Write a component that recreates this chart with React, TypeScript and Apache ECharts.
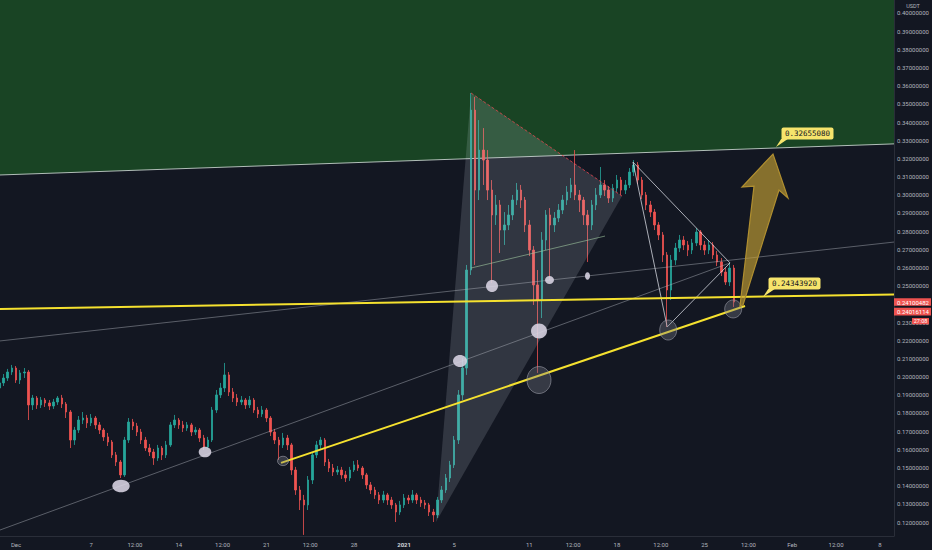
import React, { useEffect, useRef } from "react";
import * as echarts from "echarts";

// ---- time scale: x values are days counted from 1 Dec 2020 00:00 ----
const CANDLE_START_DAY = -4 / 3; // 29 Nov 2020 16:00
const CANDLE_STEP_DAY = 1 / 3; // 8-hour candles

const OPEN = [
  0.1937, 0.1965, 0.1992, 0.2025, 0.2047, 0.1981, 0.2020, 0.2025, 0.1844, 0.1882,
  0.1844, 0.1871, 0.1855, 0.1838, 0.1860, 0.1882, 0.1849, 0.1805, 0.1651, 0.1706,
  0.1761, 0.1772, 0.1745, 0.1772, 0.1734, 0.1706, 0.1668, 0.1640, 0.1569, 0.1530,
  0.1459, 0.1651, 0.1750, 0.1728, 0.1695, 0.1651, 0.1607, 0.1585, 0.1552, 0.1607,
  0.1569, 0.1624, 0.1734, 0.1761, 0.1734, 0.1717, 0.1734, 0.1695, 0.1706, 0.1662,
  0.1613, 0.1651, 0.1816, 0.1899, 0.1937, 0.2009, 0.1915, 0.1882, 0.1860, 0.1871,
  0.1844, 0.1871, 0.1816, 0.1794, 0.1816, 0.1772, 0.1695, 0.1651, 0.1624, 0.1662,
  0.1624, 0.1486, 0.1376, 0.1321, 0.1294, 0.1431, 0.1569, 0.1624, 0.1651, 0.1530,
  0.1497, 0.1475, 0.1486, 0.1459, 0.1442, 0.1486, 0.1514, 0.1497, 0.1459, 0.1404,
  0.1376, 0.1349, 0.1321, 0.1349, 0.1321, 0.1294, 0.1255, 0.1294, 0.1332, 0.1321,
  0.1349, 0.1321, 0.1305, 0.1294, 0.1255, 0.1239, 0.1321, 0.1376, 0.1442, 0.1514,
  0.1651, 0.1899, 0.2047, 0.2586, 0.3466, 0.3026, 0.3246, 0.3191, 0.3026, 0.2889,
  0.2944, 0.2806, 0.2834, 0.2889, 0.2971, 0.3026, 0.2971, 0.2834, 0.2696, 0.2504,
  0.2421, 0.2751, 0.2889, 0.2834, 0.2872, 0.2916, 0.2971, 0.3015, 0.3054, 0.2999,
  0.2971, 0.2889, 0.2834, 0.2944, 0.2999, 0.3054, 0.3026, 0.2982, 0.3037, 0.3081,
  0.3026, 0.3054, 0.3125, 0.3164, 0.3081, 0.2999, 0.2944, 0.2905, 0.2834, 0.2779,
  0.2669, 0.2476, 0.2641, 0.2707, 0.2751, 0.2724, 0.2696, 0.2735, 0.2795, 0.2724,
  0.2696, 0.2724, 0.2669, 0.2630, 0.2575, 0.2520, 0.2597,
];

const CLOSE = [
  0.1965, 0.1992, 0.2025, 0.2047, 0.1981, 0.2020, 0.2025, 0.1844, 0.1882, 0.1844,
  0.1871, 0.1855, 0.1838, 0.1860, 0.1882, 0.1849, 0.1805, 0.1651, 0.1706, 0.1761,
  0.1772, 0.1745, 0.1772, 0.1734, 0.1706, 0.1668, 0.1640, 0.1569, 0.1530, 0.1459,
  0.1651, 0.1750, 0.1728, 0.1695, 0.1651, 0.1607, 0.1585, 0.1552, 0.1607, 0.1569,
  0.1624, 0.1734, 0.1761, 0.1734, 0.1717, 0.1734, 0.1695, 0.1706, 0.1662, 0.1613,
  0.1651, 0.1816, 0.1899, 0.1937, 0.2009, 0.1915, 0.1882, 0.1860, 0.1871, 0.1844,
  0.1871, 0.1816, 0.1794, 0.1816, 0.1772, 0.1695, 0.1651, 0.1624, 0.1662, 0.1624,
  0.1486, 0.1376, 0.1321, 0.1294, 0.1431, 0.1569, 0.1624, 0.1651, 0.1530, 0.1497,
  0.1475, 0.1486, 0.1459, 0.1442, 0.1486, 0.1514, 0.1497, 0.1459, 0.1404, 0.1376,
  0.1349, 0.1321, 0.1349, 0.1321, 0.1294, 0.1255, 0.1294, 0.1332, 0.1321, 0.1349,
  0.1321, 0.1305, 0.1294, 0.1255, 0.1239, 0.1321, 0.1376, 0.1442, 0.1514, 0.1651,
  0.1899, 0.2047, 0.2586, 0.3466, 0.3026, 0.3246, 0.3191, 0.3026, 0.2889, 0.2944,
  0.2806, 0.2834, 0.2889, 0.2971, 0.3026, 0.2971, 0.2834, 0.2696, 0.2504, 0.2421,
  0.2751, 0.2889, 0.2834, 0.2872, 0.2916, 0.2971, 0.3015, 0.3054, 0.2999, 0.2971,
  0.2889, 0.2834, 0.2944, 0.2999, 0.3054, 0.3026, 0.2982, 0.3037, 0.3081, 0.3026,
  0.3054, 0.3125, 0.3164, 0.3081, 0.2999, 0.2944, 0.2905, 0.2834, 0.2779, 0.2669,
  0.2476, 0.2641, 0.2707, 0.2751, 0.2724, 0.2696, 0.2735, 0.2795, 0.2724, 0.2696,
  0.2724, 0.2669, 0.2630, 0.2575, 0.2520, 0.2597, 0.2410,
];

const HIGH = [
  0.1987, 0.2014, 0.2042, 0.2064, 0.2058, 0.2036, 0.2047, 0.2036, 0.1899, 0.1893,
  0.1888, 0.1882, 0.1871, 0.1877, 0.1893, 0.1899, 0.1860, 0.1816, 0.1723, 0.1783,
  0.1805, 0.1789, 0.1794, 0.1783, 0.1750, 0.1717, 0.1690, 0.1651, 0.1585, 0.1541,
  0.1668, 0.1772, 0.1767, 0.1745, 0.1712, 0.1668, 0.1629, 0.1602, 0.1624, 0.1618,
  0.1646, 0.1750, 0.1789, 0.1772, 0.1756, 0.1750, 0.1745, 0.1723, 0.1717, 0.1679,
  0.1668, 0.1833, 0.1926, 0.1965, 0.2075, 0.2025, 0.1937, 0.1904, 0.1893, 0.1882,
  0.1893, 0.1882, 0.1833, 0.1838, 0.1827, 0.1783, 0.1712, 0.1668, 0.1690, 0.1679,
  0.1635, 0.1503, 0.1398, 0.1349, 0.1453, 0.1585, 0.1646, 0.1668, 0.1662, 0.1547,
  0.1519, 0.1508, 0.1503, 0.1481, 0.1503, 0.1536, 0.1541, 0.1508, 0.1470, 0.1420,
  0.1393, 0.1365, 0.1371, 0.1360, 0.1338, 0.1305, 0.1316, 0.1354, 0.1349, 0.1376,
  0.1360, 0.1338, 0.1321, 0.1305, 0.1272, 0.1338, 0.1398, 0.1464, 0.1536, 0.1673,
  0.1926, 0.2102, 0.2614, 0.3560, 0.3538, 0.3411, 0.3367, 0.3246, 0.3081, 0.2999,
  0.2971, 0.2905, 0.2944, 0.2999, 0.3065, 0.3054, 0.2988, 0.2861, 0.2718, 0.2586,
  0.2795, 0.2916, 0.2927, 0.2905, 0.2949, 0.2999, 0.3048, 0.3092, 0.3246, 0.3026,
  0.2988, 0.2916, 0.2971, 0.3037, 0.3153, 0.3081, 0.3048, 0.3059, 0.3109, 0.3098,
  0.3081, 0.3147, 0.3191, 0.3180, 0.3098, 0.3015, 0.2966, 0.2922, 0.2850, 0.2795,
  0.2685, 0.2669, 0.2735, 0.2779, 0.2773, 0.2746, 0.2757, 0.2817, 0.2806, 0.2746,
  0.2751, 0.2740, 0.2691, 0.2652, 0.2597, 0.2625, 0.2614,
];

const LOW = [
  0.1921, 0.1948, 0.1976, 0.2009, 0.1965, 0.1959, 0.1992, 0.1761, 0.1816, 0.1822,
  0.1827, 0.1833, 0.1816, 0.1822, 0.1844, 0.1827, 0.1772, 0.1607, 0.1624, 0.1690,
  0.1739, 0.1717, 0.1728, 0.1712, 0.1684, 0.1646, 0.1618, 0.1552, 0.1508, 0.1442,
  0.1448, 0.1635, 0.1706, 0.1673, 0.1629, 0.1591, 0.1563, 0.1514, 0.1536, 0.1541,
  0.1552, 0.1613, 0.1717, 0.1712, 0.1695, 0.1701, 0.1673, 0.1679, 0.1640, 0.1596,
  0.1602, 0.1640, 0.1800, 0.1882, 0.1915, 0.1893, 0.1860, 0.1838, 0.1844, 0.1822,
  0.1827, 0.1800, 0.1772, 0.1778, 0.1750, 0.1673, 0.1629, 0.1541, 0.1607, 0.1596,
  0.1459, 0.1349, 0.1266, 0.1129, 0.1266, 0.1409, 0.1552, 0.1602, 0.1508, 0.1475,
  0.1453, 0.1459, 0.1437, 0.1420, 0.1426, 0.1475, 0.1481, 0.1437, 0.1382, 0.1354,
  0.1327, 0.1299, 0.1305, 0.1294, 0.1272, 0.1200, 0.1239, 0.1277, 0.1299, 0.1305,
  0.1299, 0.1283, 0.1272, 0.1233, 0.1200, 0.1222, 0.1305, 0.1360, 0.1420, 0.1497,
  0.1629, 0.1871, 0.2009, 0.2559, 0.2614, 0.2971, 0.3054, 0.2971, 0.2515, 0.2834,
  0.2680, 0.2724, 0.2806, 0.2861, 0.2944, 0.2927, 0.2795, 0.2663, 0.2394, 0.2020,
  0.2322, 0.2696, 0.2531, 0.2795, 0.2850, 0.2894, 0.2944, 0.2982, 0.2971, 0.2905,
  0.2834, 0.2630, 0.2806, 0.2916, 0.2982, 0.2993, 0.2955, 0.2960, 0.3015, 0.2999,
  0.3004, 0.3037, 0.3103, 0.3059, 0.2977, 0.2916, 0.2878, 0.2806, 0.2751, 0.2630,
  0.2273, 0.2421, 0.2614, 0.2685, 0.2696, 0.2663, 0.2674, 0.2718, 0.2696, 0.2669,
  0.2674, 0.2647, 0.2608, 0.2553, 0.2504, 0.2498, 0.2383,
];

// ---- axes ----
// 0.24 sits fully under the last-price tags in the reference, so it is not drawn.
const PRICE_TICKS = [
  0.12, 0.13, 0.14, 0.15, 0.16, 0.17, 0.18, 0.19, 0.2, 0.21, 0.22, 0.23, 0.25,
  0.26, 0.27, 0.28, 0.29, 0.3, 0.31, 0.32, 0.33, 0.34, 0.35, 0.36, 0.37, 0.38, 0.39, 0.4,
];
const TIME_TICKS = [0, 6, 9.5, 13, 16.5, 20, 23.5, 27, 31, 35, 41, 44.5, 48, 51.5, 55, 58.5, 62, 65.5, 69];
const TIME_LABELS = ["Dec", "7", "12:00", "14", "12:00", "21", "12:00", "28", "2021", "5", "11", "12:00", "18", "12:00", "25", "12:00", "Feb", "12:00", "8"];
const X_MIN = -1.278;
const X_MAX = 70.128;
const Y_MIN = 0.1123;
const Y_MAX = 0.40715;

// ---- price-axis tags ----
const LAST_PRICE = 0.24100482;
const SECOND_PRICE = 0.24016114;
const COUNTDOWN = "27:08";

// ---- drawings, in [day, price] ----
const GREEN_EDGE = [[-1.278, 0.3109], [70.128, 0.328]];
const YELLOW_LEVEL = [[-1.278, 0.2372], [70.128, 0.2452]];
const YELLOW_TREND = [[21.166, 0.1525], [58.227, 0.2388]];
const GREY_STEEP = [[-1.278, 0.1156], [57.029, 0.2625]];
const GREY_SHALLOW = [[-1.278, 0.2196], [70.128, 0.274]];
const FLAG_LINE = [[36.342, 0.2597], [47.045, 0.2773]];
const BIG_TRIANGLE = [[33.546, 0.12], [36.342, 0.356], [48.403, 0.2993]];
const RIGHT_TRIANGLE = [[49.281, 0.318], [52.013, 0.2273], [57.029, 0.2625]];
const ARROW = [
  [57.827, 0.2388], [58.946, 0.3048], [57.987, 0.3043], [60.463, 0.3224],
  [61.661, 0.2982], [60.942, 0.3026], [58.067, 0.2394],
];
const LIGHT_MARKS = [
  [8.387, 0.1398, 8.7, 6.3],
  [15.096, 0.1585, 6.3, 5.3],
  [35.463, 0.2086, 7, 6],
  [38.019, 0.2498, 6, 6],
  [41.773, 0.2251, 8, 7.5],
  [42.612, 0.2531, 4.5, 4],
  [45.647, 0.2553, 2.5, 3.7],
];
const DARK_MARKS = [
  [41.773, 0.1981, 12, 13.5],
  [52.093, 0.2256, 8.5, 10],
  [57.284, 0.2372, 8.5, 9],
  [21.326, 0.1536, 5.5, 4.7],
];
const TARGET_LABEL = { day: 60.703, price: 0.3263, text: "0.32655080" };
const SUPPORT_LABEL = { day: 59.665, price: 0.2438, text: "0.24343920" };

const BG = "#131722";
const AXIS_TEXT = "#b2b5be";
const UP = "#26a69a";
const DOWN = "#ef5350";
const YELLOW = "#f5e12f";
const LABEL_BG = "#f6e46c";

export default function App() {
  const ref = useRef<HTMLDivElement>(null);

  useEffect(() => {
    if (!ref.current) return;
    const chart = echarts.init(ref.current, undefined, { renderer: "svg" });

    const candles = CLOSE.map((c, i) => [
      CANDLE_START_DAY + i * CANDLE_STEP_DAY,
      OPEN[i],
      c,
      LOW[i],
      HIGH[i],
    ]);

    chart.setOption({
      animation: false,
      backgroundColor: BG,
      grid: { left: 0, right: 38, top: 0, bottom: 14, containLabel: false },
      xAxis: {
        type: "value",
        min: X_MIN,
        max: X_MAX,
        axisLine: { show: true, onZero: false, lineStyle: { color: "#2a2e39", width: 1 } },
        axisTick: { show: false },
        splitLine: { show: false },
        axisLabel: {
          customValues: TIME_TICKS,
          color: AXIS_TEXT,
          fontSize: 6,
          fontFamily: "Roboto",
          margin: 5,
          formatter: (v: number) => {
            const k = TIME_TICKS.findIndex((t) => Math.abs(t - v) < 1e-6);
            if (k < 0) return "";
            const s = TIME_LABELS[k];
            return s === "2021" ? "{b|" + s + "}" : s;
          },
          rich: { b: { fontWeight: "bold", fontSize: 6, color: "#d1d4dc", fontFamily: "Roboto" } },
        },
      },
      yAxis: {
        type: "value",
        position: "right",
        min: Y_MIN,
        max: Y_MAX,
        axisLine: { show: true, onZero: false, lineStyle: { color: "#2a2e39", width: 1 } },
        axisTick: { show: false },
        splitLine: { show: false },
        axisLabel: {
          customValues: PRICE_TICKS,
          color: AXIS_TEXT,
          fontSize: 6,
          fontFamily: "Roboto",
          margin: 3,
          formatter: (v: number) => v.toFixed(8),
        },
      },
      series: [
        {
          type: "candlestick",
          data: candles,
          encode: { x: 0, y: [1, 2, 3, 4] },
          barWidth: 2,
          itemStyle: {
            color: UP,
            color0: DOWN,
            borderColor: UP,
            borderColor0: DOWN,
            borderWidth: 0.8,
          },
          z: 2,
        },
      ],
    });

    const px = (p: number[]) =>
      chart.convertToPixel({ xAxisIndex: 0, yAxisIndex: 0 }, p) as number[];
    const seg = (pts: number[][], stroke: string, width: number, z: number, dash?: number[]) => {
      const a = px(pts[0]);
      const b = px(pts[1]);
      return {
        type: "line",
        z,
        silent: true,
        shape: { x1: a[0], y1: a[1], x2: b[0], y2: b[1] },
        style: { stroke, lineWidth: width, lineDash: dash },
      };
    };
    const mark = (m: number[], fill: string, stroke: string | null, z: number) => {
      const c = px([m[0], m[1]]);
      return {
        type: "ellipse",
        z,
        silent: true,
        shape: { cx: c[0], cy: c[1], rx: m[2], ry: m[3] },
        style: stroke ? { fill, stroke, lineWidth: 1 } : { fill },
      };
    };
    const tag = (l: { day: number; price: number; text: string }) => {
      const [tx, ty] = px([l.day, l.price]);
      const bx = tx + 5.5;
      const by = ty - 19.5;
      const bw = 52;
      const bh = 12;
      return [
        {
          type: "polygon",
          z: 20,
          silent: true,
          shape: { points: [[bx, by + bh - 1], [bx + 7, by + bh - 1], [tx, ty]] },
          style: { fill: LABEL_BG },
        },
        {
          type: "rect",
          z: 20,
          silent: true,
          shape: { x: bx, y: by, width: bw, height: bh, r: 2 },
          style: { fill: LABEL_BG },
        },
        {
          type: "text",
          z: 21,
          silent: true,
          x: bx + bw / 2,
          y: by + bh / 2 + 0.5,
          style: {
            text: l.text,
            fill: "#131722",
            fontSize: 7.5,
            fontFamily: "DejaVu Sans Mono",
            align: "center",
            verticalAlign: "middle",
            textAlign: "center",
            textVerticalAlign: "middle",
          },
        },
      ];
    };

    const gTop0 = px([X_MIN, Y_MAX]);
    const gTop1 = px([X_MAX, Y_MAX]);
    const gE0 = px(GREEN_EDGE[0]);
    const gE1 = px(GREEN_EDGE[1]);
    const lastY = px([X_MIN, LAST_PRICE])[1];
    const axisX = gTop1[0];

    const priceTag = (y: number, text: string, x: number, w: number) => [
      {
        type: "rect",
        z: 30,
        silent: true,
        shape: { x, y: y - 3.8, width: w, height: 7.6 },
        style: { fill: DOWN },
      },
      {
        type: "text",
        z: 31,
        silent: true,
        x: x + 3,
        y: y + 0.3,
        style: {
          text,
          fill: "#ffffff",
          fontSize: 6,
          fontFamily: "Roboto",
          align: "left",
          verticalAlign: "middle",
          textAlign: "left",
          textVerticalAlign: "middle",
        },
      },
    ];

    const elements: any[] = [
      {
        type: "polygon",
        z: 0,
        silent: true,
        shape: { points: [gTop0, gTop1, gE1, gE0] },
        style: { fill: "#194424" },
      },
      seg(GREEN_EDGE, "rgba(205,215,210,0.85)", 1, 1),
      {
        type: "polygon",
        z: 3,
        silent: true,
        shape: { points: BIG_TRIANGLE.map(px) },
        style: { fill: "rgba(210,215,228,0.16)" },
      },
      seg([BIG_TRIANGLE[1], BIG_TRIANGLE[2]], "rgba(242,70,80,0.75)", 1, 3, [3, 2]),
      seg(GREY_STEEP, "rgba(178,181,190,0.45)", 1, 3),
      seg(GREY_SHALLOW, "rgba(178,181,190,0.45)", 1, 3),
      seg(FLAG_LINE, "rgba(160,200,160,0.6)", 1, 3),
      {
        type: "polygon",
        z: 3,
        silent: true,
        shape: { points: RIGHT_TRIANGLE.map(px) },
        style: { fill: "none", stroke: "rgba(222,224,232,0.75)", lineWidth: 1 },
      },
      seg(YELLOW_LEVEL, YELLOW, 2, 4),
      seg(YELLOW_TREND, YELLOW, 2, 4),
      ...LIGHT_MARKS.map((m) => mark(m, "rgba(218,213,228,0.88)", null, 5)),
      ...DARK_MARKS.map((m) => mark(m, "rgba(120,123,134,0.35)", "rgba(165,168,178,0.55)", 5)),
      {
        type: "polygon",
        z: 6,
        silent: true,
        shape: { points: ARROW.map(px) },
        style: { fill: "rgba(196,160,52,0.65)", stroke: "#b08f30", lineWidth: 1.2 },
      },
      ...tag(TARGET_LABEL),
      ...tag(SUPPORT_LABEL),
      ...priceTag(lastY, LAST_PRICE.toFixed(8), axisX, 37),
      ...priceTag(lastY + 9.6, SECOND_PRICE.toFixed(8), axisX, 37),
      {
        type: "rect",
        z: 30,
        silent: true,
        shape: { x: axisX + 18, y: lastY + 16, width: 17, height: 6.2 },
        style: { fill: DOWN },
      },
      {
        type: "text",
        z: 31,
        silent: true,
        x: axisX + 26.5,
        y: lastY + 19.2,
        style: {
          text: COUNTDOWN,
          fill: "#ffffff",
          fontSize: 5.5,
          fontFamily: "Roboto",
          align: "center",
          verticalAlign: "middle",
          textAlign: "center",
          textVerticalAlign: "middle",
        },
      },
      {
        type: "rect",
        z: 28,
        silent: true,
        shape: { x: axisX + 10, y: 1, width: 20, height: 8 },
        style: { fill: BG },
      },
      {
        type: "text",
        z: 29,
        silent: true,
        x: axisX + 19,
        y: 5.5,
        style: {
          text: "USDT",
          fill: AXIS_TEXT,
          fontSize: 5.5,
          fontFamily: "Roboto",
          align: "center",
          verticalAlign: "middle",
          textAlign: "center",
          textVerticalAlign: "middle",
        },
      },
    ];

    chart.setOption({ graphic: elements });

    return () => chart.dispose();
  }, []);

  return (
    <div
      ref={ref}
      style={{ position: "absolute", left: 0, top: 0, width: 932, height: 550 }}
    />
  );
}
